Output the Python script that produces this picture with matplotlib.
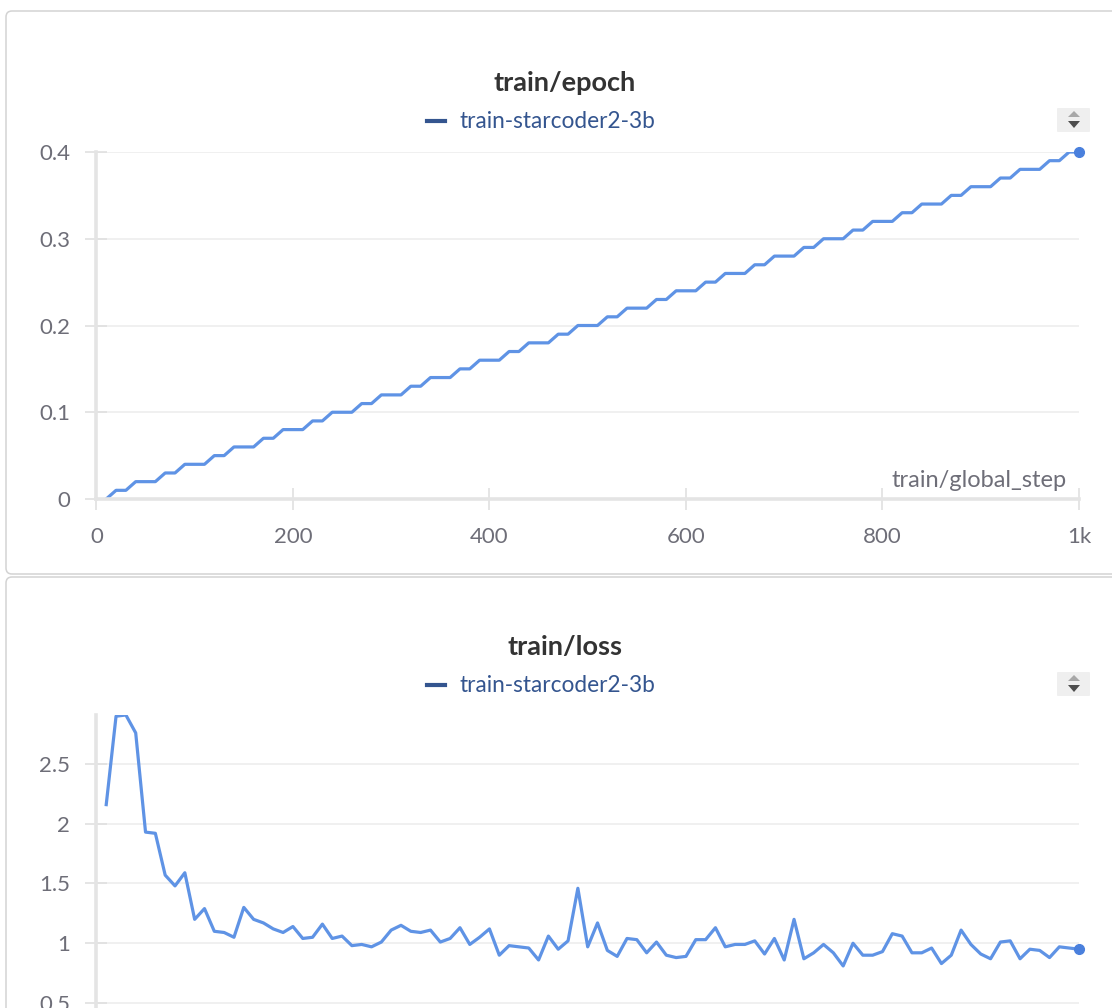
import matplotlib
matplotlib.use("Agg")
import matplotlib.pyplot as plt
from matplotlib.patches import FancyBboxPatch, Polygon
from matplotlib.lines import Line2D

plt.rcParams["font.family"] = ["Lato", "DejaVu Sans"]

# -----------------------
# Data
# -----------------------

run_name = "train-starcoder2-3b"

steps = [
    10, 20, 30, 40, 50, 60, 70, 80, 90, 100,
    110, 120, 130, 140, 150, 160, 170, 180, 190, 200,
    210, 220, 230, 240, 250, 260, 270, 280, 290, 300,
    310, 320, 330, 340, 350, 360, 370, 380, 390, 400,
    410, 420, 430, 440, 450, 460, 470, 480, 490, 500,
    510, 520, 530, 540, 550, 560, 570, 580, 590, 600,
    610, 620, 630, 640, 650, 660, 670, 680, 690, 700,
    710, 720, 730, 740, 750, 760, 770, 780, 790, 800,
    810, 820, 830, 840, 850, 860, 870, 880, 890, 900,
    910, 920, 930, 940, 950, 960, 970, 980, 990, 1000,
]

epoch = [
    0.00, 0.01, 0.01, 0.02, 0.02, 0.02, 0.03, 0.03, 0.04, 0.04,
    0.04, 0.05, 0.05, 0.06, 0.06, 0.06, 0.07, 0.07, 0.08, 0.08,
    0.08, 0.09, 0.09, 0.10, 0.10, 0.10, 0.11, 0.11, 0.12, 0.12,
    0.12, 0.13, 0.13, 0.14, 0.14, 0.14, 0.15, 0.15, 0.16, 0.16,
    0.16, 0.17, 0.17, 0.18, 0.18, 0.18, 0.19, 0.19, 0.20, 0.20,
    0.20, 0.21, 0.21, 0.22, 0.22, 0.22, 0.23, 0.23, 0.24, 0.24,
    0.24, 0.25, 0.25, 0.26, 0.26, 0.26, 0.27, 0.27, 0.28, 0.28,
    0.28, 0.29, 0.29, 0.30, 0.30, 0.30, 0.31, 0.31, 0.32, 0.32,
    0.32, 0.33, 0.33, 0.34, 0.34, 0.34, 0.35, 0.35, 0.36, 0.36,
    0.36, 0.37, 0.37, 0.38, 0.38, 0.38, 0.39, 0.39, 0.40, 0.40,
]

loss = [
    2.16, 2.90, 2.91, 2.76, 1.93, 1.92, 1.57, 1.48, 1.59, 1.20,
    1.29, 1.10, 1.09, 1.05, 1.30, 1.20, 1.17, 1.12, 1.09, 1.14,
    1.04, 1.05, 1.16, 1.04, 1.06, 0.98, 0.99, 0.97, 1.01, 1.11,
    1.15, 1.10, 1.09, 1.11, 1.01, 1.04, 1.13, 0.99, 1.05, 1.12,
    0.90, 0.98, 0.97, 0.96, 0.86, 1.06, 0.95, 1.02, 1.46, 0.97,
    1.17, 0.94, 0.89, 1.04, 1.03, 0.92, 1.01, 0.90, 0.88, 0.89,
    1.03, 1.03, 1.13, 0.97, 0.99, 0.99, 1.02, 0.91, 1.04, 0.86,
    1.20, 0.87, 0.92, 0.99, 0.92, 0.81, 1.00, 0.90, 0.90, 0.93,
    1.08, 1.06, 0.92, 0.92, 0.96, 0.83, 0.90, 1.11, 0.99, 0.91,
    0.87, 1.01, 1.02, 0.87, 0.95, 0.94, 0.88, 0.97, 0.96, 0.95,
]

x_ticks = [0, 200, 400, 600, 800, 1000]
x_labels = ["0", "200", "400", "600", "800", "1k"]
epoch_ticks = [0, 0.1, 0.2, 0.3, 0.4]
epoch_labels = ["0", "0.1", "0.2", "0.3", "0.4"]
loss_ticks = [0.5, 1, 1.5, 2, 2.5]
loss_labels = ["0.5", "1", "1.5", "2", "2.5"]

# -----------------------
# Style
# -----------------------

W, H = 1112, 1008
LINE = "#5f93e5"
DOT = "#4a80dd"
LEG = "#34558f"
TICKTXT = "#6e6e78"
SPINE = "#e4e4e4"
GRID = "#eeeeee"

fig = plt.figure(figsize=(W / 100, H / 100), dpi=100)
fig.patch.set_facecolor("white")
tr = fig.dpi_scale_trans


def px(x, y):
    # pixel (from top-left) -> inches (from bottom-left)
    return x / 100, (H - y) / 100


def panel(y0, y1):
    x, yb = px(6, y1)
    _, yt = px(6, y0)
    box = FancyBboxPatch((x, yb), 11.4, yt - yb,
                         boxstyle="round,pad=0,rounding_size=0.06",
                         transform=tr, fc="none", ec="#d3d3d3", lw=1.1)
    fig.patches.append(box)


def header(title, ty, ly, iy):
    fig.text(565 / W, 1 - ty / H, title, ha="center", va="center",
             fontsize=19.5, fontweight="bold", color="#333333")
    a, b = px(427, ly)
    c, _ = px(445, ly)
    fig.add_artist(Line2D([a, c], [b, b], transform=tr, color=LEG, lw=3))
    fig.text(459 / W, 1 - ly / H, run_name, ha="left", va="center",
             fontsize=16.3, color=LEG)
    # sort control
    bx, by = px(1057, iy + 12)
    fig.patches.append(FancyBboxPatch((bx, by), 0.33, 0.24,
                                      boxstyle="round,pad=0,rounding_size=0.01",
                                      transform=tr, fc="#efefef", ec="none"))
    up = [px(1068, iy - 3), px(1080, iy - 3), px(1074, iy - 9)]
    dn = [px(1068, iy + 1), px(1080, iy + 1), px(1074, iy + 8)]
    fig.patches.append(Polygon(up, closed=True, transform=tr, fc="#a8a8a8", ec="none"))
    fig.patches.append(Polygon(dn, closed=True, transform=tr, fc="#4d4d4d", ec="none"))


def style(ax):
    for s in ["top", "right"]:
        ax.spines[s].set_visible(False)
    for s in ["left", "bottom"]:
        ax.spines[s].set_color(SPINE)
        ax.spines[s].set_linewidth(2.6)
    ax.tick_params(direction="inout", length=16, width=1.2, color="#e0e0e0",
                   labelsize=16, labelcolor=TICKTXT)
    ax.tick_params(axis="y", pad=11)
    ax.tick_params(axis="x", pad=12)
    ax.yaxis.grid(True, color=GRID, lw=1.2)
    ax.set_axisbelow(True)
    ax.set_xlim(0, 1000)
    ax.set_xticks(x_ticks)
    ax.set_xticklabels(x_labels)


def ax_rect(x0, x1, y0, y1):
    return [x0 / W, 1 - y1 / H, (x1 - x0) / W, (y1 - y0) / H]


# -----------------------
# Top panel: train/epoch
# -----------------------

panel(11, 574)
header("train/epoch", 83, 121, 120)

ax1 = fig.add_axes(ax_rect(96.4, 1079, 152, 499))
style(ax1)
ax1.plot(steps, epoch, color=LINE, lw=2.3, solid_joinstyle="round")
ax1.plot(steps[-1], epoch[-1], "o", ms=7, color=DOT, clip_on=False)
ax1.set_ylim(0, 0.4)
ax1.set_yticks(epoch_ticks)
ax1.set_yticklabels(epoch_labels)
ax1.text(0.987, 0.052, "train/global_step", transform=ax1.transAxes,
         ha="right", va="center", fontsize=17, color=TICKTXT)

# -----------------------
# Bottom panel: train/loss
# -----------------------

panel(577, 1030)
header("train/loss", 647, 685, 684)

top = max(loss)
ax2 = fig.add_axes(ax_rect(96.4, 1079, 715, 715 + top * 119.5))
style(ax2)
ax2.tick_params(axis="x", labelbottom=False)
ax2.plot(steps, loss, color=LINE, lw=2.3, solid_joinstyle="round")
ax2.plot(steps[-1], loss[-1], "o", ms=7, color=DOT, clip_on=False)
ax2.set_ylim(0, top)
ax2.set_yticks(loss_ticks)
ax2.set_yticklabels(loss_labels)

fig.savefig("out.png", dpi=100)
plt.close(fig)
